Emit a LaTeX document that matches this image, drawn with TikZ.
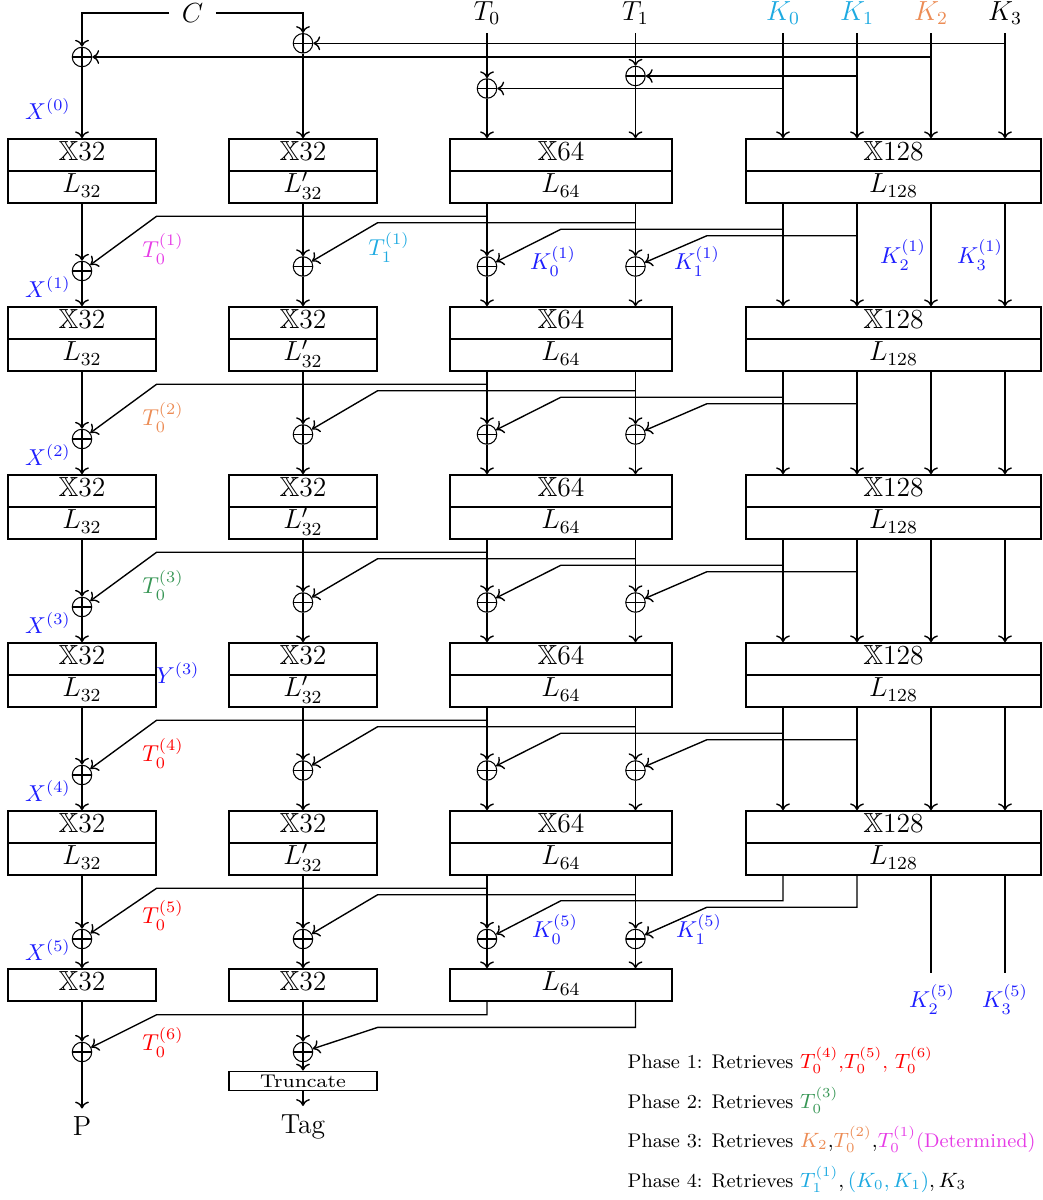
\documentclass[tikz,border=0pt]{standalone}
\usepackage{amssymb}
\usepackage{graphicx}
\usetikzlibrary{arrows.meta,calc}
\definecolor{myblue}{RGB}{30,30,255}
\definecolor{mycyan}{RGB}{30,170,225}
\definecolor{myorange}{RGB}{236,140,85}
\definecolor{mygreen}{RGB}{55,150,85}
\definecolor{mymag}{RGB}{230,60,230}
\definecolor{myred}{RGB}{255,0,0}
\def\pxu{0.4348pt}
\begin{document}
\begin{tikzpicture}[x=\pxu,y=-\pxu, line width=0.6pt, >={To[length=3pt,width=6pt]},
  cell/.style={draw, rectangle, inner sep=0pt, minimum height=32*\pxu, font=\large, text height=1.55ex, text depth=0.35ex},
  xorsty/.style={circle, draw, line width=0.45pt, minimum size=19.5*\pxu, inner sep=0pt,
    path picture={\draw[line width=0.45pt] (path picture bounding box.north) -- (path picture bounding box.south) (path picture bounding box.west) -- (path picture bounding box.east);}},
  toplbl/.style={font=\large, anchor=south},
  lbl/.style={inner sep=1pt},
  phase/.style={font=\fontsize{8.6}{10}\selectfont, anchor=base west, inner sep=0pt}]
\useasboundingbox (0,0) rectangle (1042,1200);

% ---------- top labels ----------
\node[font=\large, inner sep=5.2pt] (Clab) at (192.5,13) {$C$};
\node[toplbl] (T0) at (487,33) {$T_0$};
\node[toplbl] (T1) at (635.5,33) {$T_1$};
\node[toplbl, text=mycyan] (K0) at (783,33) {$K_0$};
\node[toplbl, text=mycyan] (K1) at (857,33) {$K_1$};
\node[toplbl, text=myorange] (K2) at (931,33) {$K_2$};
\node[toplbl] (K3) at (1005,33) {$K_3$};

% ---------- boxes rows 0..4 ----------
\foreach \i in {0,...,4}{
  \pgfmathsetmacro\yt{139+168*\i}
  \node[cell, minimum width=148*\pxu] (At\i) at (82,\yt+16) {$\mathbb{X}32$};
  \node[cell, minimum width=148*\pxu] (Ab\i) at (82,\yt+48) {$L_{32}$};
  \node[cell, minimum width=148*\pxu] (Bt\i) at (303,\yt+16) {$\mathbb{X}32$};
  \node[cell, minimum width=148*\pxu] (Bb\i) at (303,\yt+48) {$L'_{32}$};
  \node[cell, minimum width=222*\pxu] (Ct\i) at (561,\yt+16) {$\mathbb{X}64$};
  \node[cell, minimum width=222*\pxu] (Cb\i) at (561,\yt+48) {$L_{64}$};
  \node[cell, minimum width=295*\pxu] (Dt\i) at (893.5,\yt+16) {$\mathbb{X}128$};
  \node[cell, minimum width=295*\pxu] (Db\i) at (893.5,\yt+48) {$L_{128}$};
}
% row 5
\node[cell, minimum width=148*\pxu] (A5) at (82,985) {$\mathbb{X}32$};
\node[cell, minimum width=148*\pxu] (B5) at (303,985) {$\mathbb{X}32$};
\node[cell, minimum width=222*\pxu] (C5) at (561,985) {$L_{64}$};

% ---------- top xors ----------
\node[xorsty] (xA0) at (82,57) {};
\node[xorsty] (xB0) at (303,43.3) {};
\node[xorsty] (xTa0) at (487,88.5) {};
\node[xorsty] (xTb0) at (635.5,76) {};

\draw[->] (Clab.west) -| (xA0);
\draw[->] (Clab.east) -| (xB0);
\draw[->] (K3) -- (K3 |- Dt0.north);
\draw[->] (K3 |- xB0) -- (xB0);
\draw[->] (K2) -- (K2 |- Dt0.north);
\draw[->] (K2 |- xA0) -- (xA0);
\draw[->] (K1) -- (K1 |- Dt0.north);
\draw[->] (K1 |- xTb0) -- (xTb0);
\draw[->] (K0) -- (K0 |- Dt0.north);
\draw[->] (K0 |- xTa0) -- (xTa0);
\draw[->] (T0) -- (xTa0);
\draw[->] (xTa0) -- (T0 |- Ct0.north);
\draw[->] (T1) -- (xTb0);
\draw[->] (xTb0) -- (T1 |- Ct0.north);
\draw[->] (xA0) -- (At0);
\draw[->] (xB0) -- (Bt0);
\node[lbl, text=myblue] (lX0) at (48,109) {$X^{(0)}$};

% ---------- rounds 1..4 ----------
\foreach \r in {1,...,4}{
  \pgfmathtruncatemacro\p{\r-1}
  \pgfmathsetmacro\yb{203+168*\p}
  \node[xorsty] (xA\r) at (82,\yb+68) {};
  \node[xorsty] (xB\r) at (303,\yb+63.5) {};
  \node[xorsty] (xTa\r) at (487,\yb+63.5) {};
  \node[xorsty] (xTb\r) at (635.5,\yb+63.5) {};
  \draw[->] (Ab\p) -- (xA\r);
  \draw[->] (xA\r) -- (At\r);
  \draw[->] (Bb\p) -- (xB\r);
  \draw[->] (xB\r) -- (Bt\r);
  \draw[->] (T0 |- Cb\p.south) -- (xTa\r);
  \draw[->] (xTa\r) -- (T0 |- Ct\r.north);
  \draw[->] (T1 |- Cb\p.south) -- (xTb\r);
  \draw[->] (xTb\r) -- (T1 |- Ct\r.north);
  \foreach \k in {K0,K1,K2,K3}{\draw[->] (\k |- Db\p.south) -- (\k |- Dt\r.north);}
  \draw[->] ($(T0 |- Cb\p.south)+(0,12.5)$) -- ($(Ab\p.south east)+(0,12.5)$) -- (xA\r);
  \draw[->] ($(T1 |- Cb\p.south)+(0,19)$) -- ($(Bb\p.south east)+(0,19)$) -- (xB\r);
  \draw[->] ($(K0 |- Db\p.south)+(0,25.5)$) -- ($(Cb\p.south)+(0,25.5)$) -- (xTa\r);
  \draw[->] ($(K1 |- Db\p.south)+(0,32)$) -- ($(Cb\p.south)+(146,32)$) -- (xTb\r);
}
\foreach \r/\col in {1/mymag,2/myorange,3/mygreen,4/myred}{
  \pgfmathsetmacro\yb{203+168*(\r-1)}
  \node[lbl, text=\col] (lT\r) at (163,\yb+46) {$T_0^{(\r)}$};
  \node[lbl, text=myblue] (lX\r) at (48,\yb+84) {$X^{(\r)}$};
}
\node[lbl, text=mycyan] (lT11) at (389,247) {$T_1^{(1)}$};
\node[lbl, text=myblue] (lK01) at (553,261) {$K_0^{(1)}$};
\node[lbl, text=myblue] (lK11) at (697,261) {$K_1^{(1)}$};
\node[lbl, text=myblue] (lK21) at (903,255) {$K_2^{(1)}$};
\node[lbl, text=myblue] (lK31) at (980,255) {$K_3^{(1)}$};
\node[lbl, text=myblue] (lY3) at (178,673) {$Y^{(3)}$};

% ---------- round 5 ----------
\node[xorsty] (xA5) at (82,939) {};
\node[xorsty] (xB5) at (303,939) {};
\node[xorsty] (xTa5) at (487,939) {};
\node[xorsty] (xTb5) at (635.5,939) {};
\draw[->] (Ab4) -- (xA5);
\draw[->] (xA5) -- (A5);
\draw[->] (Bb4) -- (xB5);
\draw[->] (xB5) -- (B5);
\draw[->] (T0 |- Cb4.south) -- (xTa5);
\draw[->] (xTa5) -- (T0 |- C5.north);
\draw[->] (T1 |- Cb4.south) -- (xTb5);
\draw[->] (xTb5) -- (T1 |- C5.north);
\draw[->] ($(T0 |- Cb4.south)+(0,12.5)$) -- ($(Ab4.south east)+(0,12.5)$) -- (xA5);
\draw[->] ($(T1 |- Cb4.south)+(0,19)$) -- ($(Bb4.south east)+(0,19)$) -- (xB5);
\draw[->] (K0 |- Db4.south) -- ++(0,25) -- ($(Cb4.south)+(0,25)$) -- (xTa5);
\draw[->] (K1 |- Db4.south) -- ++(0,31.5) -- ($(Cb4.south)+(146,31.5)$) -- (xTb5);
\draw (K2 |- Db4.south) -- ++(0,97);
\draw (K3 |- Db4.south) -- ++(0,97);
\node[lbl, text=myred] (lT5) at (163,915) {$T_0^{(5)}$};
\node[lbl, text=myblue] (lX5) at (48,950) {$X^{(5)}$};
\node[lbl, text=myblue] (lK05) at (555,929) {$K_0^{(5)}$};
\node[lbl, text=myblue] (lK15) at (699,929) {$K_1^{(5)}$};
\node[lbl, text=myblue] (lK25) at (932,999) {$K_2^{(5)}$};
\node[lbl, text=myblue] (lK35) at (1005,999) {$K_3^{(5)}$};

% ---------- final ----------
\node[xorsty] (xA6) at (82,1052) {};
\node[xorsty] (xB6) at (303,1052) {};
\node[draw, inner sep=0pt, minimum width=148*\pxu, minimum height=19.5*\pxu] (trunc) at (303,1081) {\scalebox{1.12}[1]{\footnotesize Truncate}};
\node[font=\large, anchor=north] (P) at (82,1108.5) {P};
\node[font=\large, anchor=north] (Tag) at (303,1106) {Tag};
\draw[->] (A5) -- (xA6);
\draw[->] (xA6) -- (P);
\draw[->] (B5) -- (xB6);
\draw[->] (xB6) -- (trunc);
\draw[->] (trunc) -- (Tag);
\draw[->] (T0 |- C5.south) -- ++(0,13) -- ($(A5.south east)+(0,13)$) -- (xA6);
\draw[->] (T1 |- C5.south) -- ++(0,25.7) -- ($(B5.south east)+(0,25.7)$) -- (xB6);
\node[lbl, text=myred] (lT6) at (163,1042) {$T_0^{(6)}$};

% ---------- phases ----------
\node[phase] (ph1) at (627,1068) {Phase 1: Retrieves \textcolor{myred}{$T_0^{(4)}$,$T_0^{(5)}$, $T_0^{(6)}$}};
\node[phase] (ph2) at (627,1108) {Phase 2: Retrieves \textcolor{mygreen}{$T_0^{(3)}$}};
\node[phase] (ph3) at (627,1147) {Phase 3: Retrieves $\textcolor{myorange}{K_2}{,}\textcolor{myorange}{T_0^{(2)}}{,}\textcolor{mymag}{T_0^{(1)}}$\textcolor{mymag}{(Determined)}};
\node[phase] (ph4) at (627,1187) {Phase 4: Retrieves $\textcolor{mycyan}{T_1^{(1)}}, \textcolor{mycyan}{(K_0, K_1)}, K_3$};
\end{tikzpicture}
\end{document}
